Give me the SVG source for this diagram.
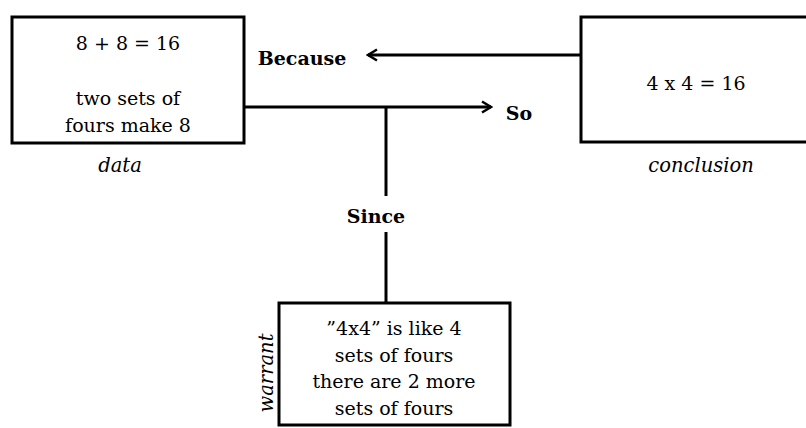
<svg xmlns="http://www.w3.org/2000/svg" width="806" height="428" viewBox="0 0 806 428">
<style>
.box{fill:#fff;stroke:#000;stroke-width:3}
.ln{fill:none;stroke:#000;stroke-width:3}
.t{font-family:"DejaVu Serif","Liberation Serif",serif;font-size:19px;fill:#000;text-anchor:middle}
.b{font-family:"DejaVu Serif","Liberation Serif",serif;font-size:19px;font-weight:bold;fill:#000;text-anchor:middle}
.i{font-family:"DejaVu Serif","Liberation Serif",serif;font-size:19.5px;font-style:italic;fill:#000;text-anchor:middle}
</style>
<defs>
<marker id="arr" viewBox="0 0 14 14" refX="12" refY="7" markerWidth="14" markerHeight="14" markerUnits="userSpaceOnUse" orient="auto">
<path d="M3,1.5 L12,7 L3,12.5" fill="none" stroke="#000" stroke-width="2.5"/>
</marker>
</defs>
<g id="connectors">
<path class="ln" d="M581,55 H368" marker-end="url(#arr)"/>
<path class="ln" d="M244,107 H491" marker-end="url(#arr)"/>
<path class="ln" d="M386,107 V196"/>
<path class="ln" d="M386,232 V303"/>
</g>
<g id="data">
<rect class="box" x="12" y="17" width="232" height="126"/>
<text class="t" x="128" y="50">8 + 8 = 16</text>
<text class="t" x="128" y="105">two sets of</text>
<text class="t" x="128" y="132">fours make 8</text>
<text class="i" x="120" y="172">data</text>
</g>
<g id="conclusion">
<rect class="box" x="581" y="17" width="240" height="125"/>
<text class="t" x="696" y="90">4 x 4 = 16</text>
<text class="i" x="701" y="172">conclusion</text>
</g>
<g id="warrant">
<rect class="box" x="279" y="303" width="231" height="122"/>
<text class="t" x="394" y="335">”4x4” is like 4</text>
<text class="t" x="394" y="362">sets of fours</text>
<text class="t" x="394" y="388">there are 2 more</text>
<text class="t" x="394" y="415">sets of fours</text>
<text class="i" transform="translate(273,373) rotate(-90)">warrant</text>
</g>
<text class="b" x="302" y="65">Because</text>
<text class="b" x="519" y="120">So</text>
<text class="b" x="376" y="223">Since</text>
</svg>
